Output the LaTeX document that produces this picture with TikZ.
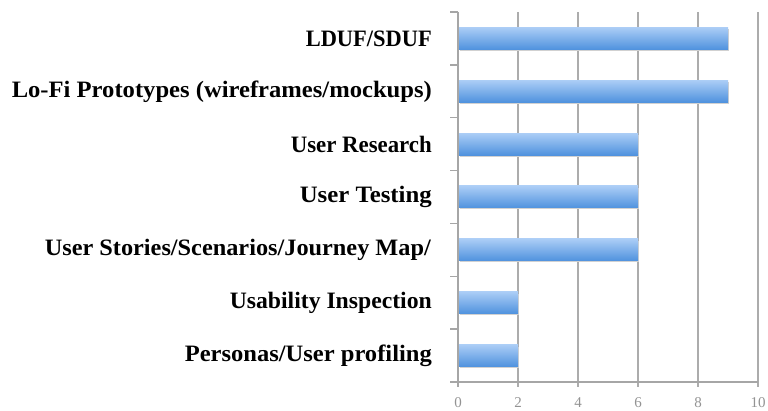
\documentclass[tikz,border=0pt]{standalone}
\usepackage{fontspec}
\usepackage{graphicx}
\setmainfont{Liberation Serif}
\begin{document}
\begin{tikzpicture}[x=1pt,y=-1pt,
  grid/.style={draw=gray!65,line width=1.3pt},
  axisline/.style={draw=gray!70,line width=1.3pt},
  barbox/.style={top color=barlight,bottom color=bardark,draw=none},
  barshadow/.style={fill=black!18,draw=none},
  catlabel/.style={anchor=east,inner sep=0pt,font=\fontsize{23.5}{25}\selectfont\bfseries},
  ticklabel/.style={anchor=base,inner sep=0pt,text=gray!85,font=\fontsize{15}{16}\selectfont}]
\definecolor{barlight}{HTML}{ABCDF6}
\definecolor{bardark}{HTML}{4F92DE}
\useasboundingbox (0,0) rectangle (768,411);
% value gridlines
\foreach \v in {2,4,6,8,10} {
  \draw[grid] ({458+30*\v},12) -- ({458+30*\v},387);
}
% category axis with its ticks
\draw[axisline] (458,12) -- (458,387);
\draw[axisline] (458,382) -- (758,382);
\foreach \k in {0,...,7} {
  \draw[axisline] (450,{12+52.857*\k}) -- (458,{12+52.857*\k});
}
% value labels
\foreach \v in {0,2,4,6,8,10} {
  \node[ticklabel] (t\v) at ({458+30*\v},407.5) {\v};
}
% bars, top to bottom
\foreach \v/\n [count=\i from 0] in {9/b1,9/b2,6/b3,6/b4,6/b5,2/b6,2/b7} {
  \pgfmathsetmacro{\yc}{12+52.857*(\i+0.5)}
  \fill[barshadow] (460,{\yc-9}) rectangle ({459+30*\v},{\yc+12.5});
  \path[barbox] (459,{\yc-11}) rectangle ({458+30*\v},{\yc+11});
  \coordinate (\n) at (432,\yc);
}
% category labels
\node[catlabel] (l1) at (b1) {\resizebox{126pt}{\height}{LDUF/SDUF}};
\node[catlabel] (l2) at (b2) {\resizebox{420pt}{\height}{Lo-Fi Prototypes (wireframes/mockups)}};
\node[catlabel] (l3) at (b3) {\resizebox{141pt}{\height}{User Research}};
\node[catlabel] (l4) at (b4) {\resizebox{132pt}{\height}{User Testing}};
\node[catlabel] (l5) at ([xshift=-1pt]b5) {\resizebox{386pt}{\height}{User Stories/Scenarios/Journey Map/}};
\node[catlabel] (l6) at (b6) {\resizebox{202pt}{\height}{Usability Inspection}};
\node[catlabel] (l7) at (b7) {\resizebox{247pt}{\height}{Personas/User profiling}};
\end{tikzpicture}
\end{document}
